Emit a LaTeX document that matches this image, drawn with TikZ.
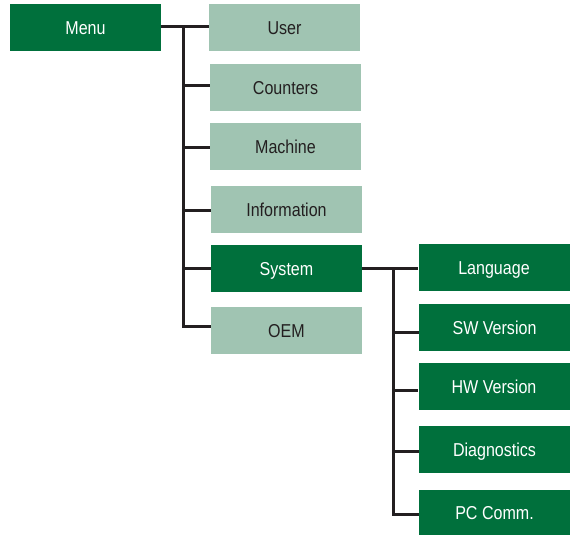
\documentclass[tikz,border=0pt]{standalone}
\usepackage{fontspec}
\setmainfont{Liberation Sans}[FakeStretch=0.86]
\definecolor{dkgreen}{HTML}{00703C}
\definecolor{ltgreen}{HTML}{A0C4B2}
\definecolor{linec}{HTML}{231F20}
\begin{document}
\begin{tikzpicture}[x=0.75pt,y=-0.75pt,
  box/.style={rectangle, inner sep=0pt, minimum width=113.25pt, minimum height=35.25pt, text height=10pt, text depth=0pt, font=\fontsize{14}{16}\selectfont},
  dkbox/.style={box, fill=dkgreen, text=white},
  ltbox/.style={box, fill=ltgreen, text=linec},
  conn/.style={draw=linec, line width=2.25pt}]
\useasboundingbox (0,0) rectangle (571,535);
\node[dkbox] (menu) at (85.5,27.5) {Menu};
\node[ltbox] (user) at (284.5,27.5) {User};
\node[ltbox] (counters) at (285.5,87.5) {Counters};
\node[ltbox] (machine) at (285.5,146.5) {Machine};
\node[ltbox] (info) at (286.5,209.5) {Information};
\node[dkbox] (system) at (286.5,268.5) {System};
\node[ltbox] (oem) at (286.5,330.5) {OEM};
\node[dkbox] (lang) at (494,267.5) {Language};
\node[dkbox] (sw) at (494.5,327.5) {SW Version};
\node[dkbox] (hw) at (494,386.5) {HW Version};
\node[dkbox] (diag) at (494.5,449.5) {Diagnostics};
\node[dkbox, minimum height=33.75pt] (pc) at (494.5,512.5) {PC Comm.};
% main trunk
\coordinate (t1) at (183,27);
\coordinate (t2) at (183,326);
\draw[conn] ([yshift=0.375pt]menu.east) -- ([yshift=0.375pt]user.west);
\draw[conn, line join=miter] (t1) -- (t2) -- (t2 -| oem.west);
\draw[conn] (183,86) -- ([yshift=1.125pt]counters.west);
\draw[conn] (183,147) -- ([yshift=-0.375pt]machine.west);
\draw[conn] (183,210) -- ([yshift=-0.375pt]info.west);
\draw[conn] (183,268) -- ([yshift=0.375pt]system.west);
% system trunk
\coordinate (s1) at (393,268);
\coordinate (s2) at (393,514);
\draw[conn] ([yshift=0.375pt]system.east) -- (s1 -| lang.west);
\draw[conn, line join=miter] (s1) -- (s2) -- (s2 -| pc.west);
\draw[conn] (393,332) -- ([yshift=-3.375pt]sw.west);
\draw[conn] (393,390) -- ([yshift=-2.625pt]hw.west);
\draw[conn] (393,451) -- ([yshift=-1.125pt]diag.west);
\end{tikzpicture}
\end{document}
